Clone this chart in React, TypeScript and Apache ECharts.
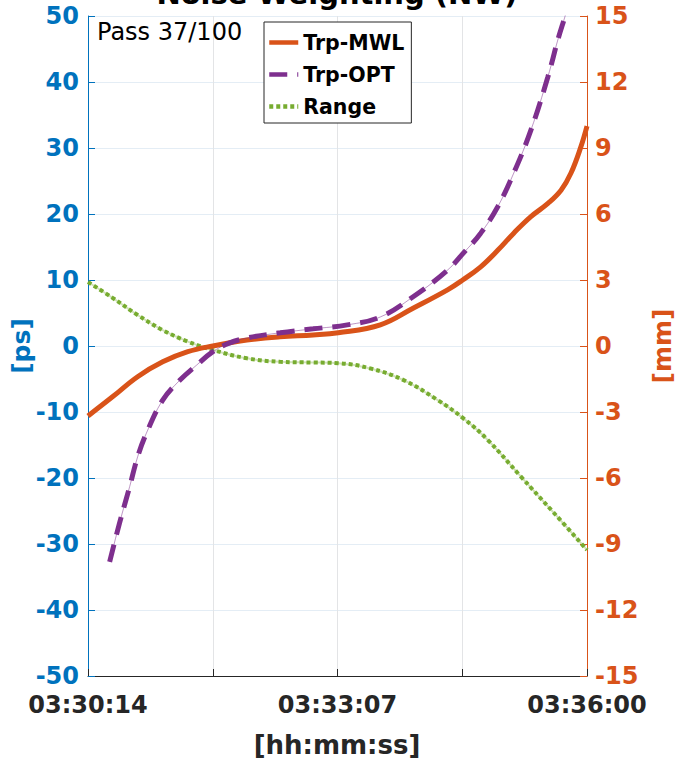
import React, { useEffect, useRef } from "react";
import * as echarts from "echarts";

// Time in seconds since 03:30:14
const X_MAX = 346;
const X_TICK_VALUES = [0, 173, 346];
const X_TICK_LABELS = ["03:30:14", "03:33:07", "03:36:00"];

// Trp-MWL [ps]
const MWL_T = [0, 17, 34.4, 51.8, 69.2, 86.6, 110.2, 133.2, 156.1, 173.5, 202.7, 225.7, 249.3, 259.8, 272.3, 284.1, 295.2, 307.1, 318.9, 328, 334.9, 341.8, 346];
const MWL_V = [-10.6, -7.7, -4.65, -2.4, -0.86, 0, 0.9, 1.4, 1.67, 2.0, 3.2, 5.75, 8.5, 10.0, 12.0, 14.5, 17.1, 19.6, 21.6, 23.6, 26.2, 30.2, 33.3];

// Trp-OPT [ps]
const OPT_T = [15, 21.9, 28.9, 34.4, 40.5, 51.8, 63.6, 75.3, 86.6, 97.4, 110, 133.2, 156.1, 179.8, 202.7, 225.7, 249.3, 260.4, 272.3, 284.1, 295.2, 307.1, 318.9, 325.8, 331.4, 334];
const OPT_V = [-32.7, -26.8, -21.3, -16.8, -13.2, -8.2, -5.2, -2.9, -0.86, 0.4, 1.2, 2.0, 2.6, 3.2, 4.4, 7.5, 11.5, 14.1, 17.1, 21.1, 26.2, 32.7, 40.8, 46.4, 50.4, 52.5];

// Range [mm]
const RANGE_T = [0, 17, 34.4, 51.8, 69.2, 86.6, 110.2, 133.2, 156.1, 173.5, 195.8, 218.8, 242.5, 260.3, 277, 300.2, 323.1, 346];
const RANGE_V = [2.91, 2.19, 1.41, 0.72, 0.2, -0.18, -0.56, -0.72, -0.75, -0.78, -1.02, -1.55, -2.46, -3.29, -4.26, -5.94, -7.59, -9.27];

const C_BLUE = "#0072BD";
const C_ORANGE = "#D95319";
const C_PURPLE = "#7E2F8E";
const C_GREEN = "#77AC30";
const C_DARK = "#262626";
const FONT = "DejaVu Sans";

const pairs = (t: number[], v: number[]) => t.map((x, i) => [x, v[i]]);

export default function App() {
  const ref = useRef<HTMLDivElement>(null);
  useEffect(() => {
    document.body.style.margin = "0";
    const chart = echarts.init(ref.current!, undefined, { renderer: "svg" });
    const option: any = {
      animation: false,
      backgroundColor: "#fff",
      grid: { left: 88, top: 16, width: 499, height: 660, containLabel: false },
      legend: {
        data: ["Trp-MWL", "Trp-OPT", "Range"],
        orient: "vertical",
        left: 264,
        top: 22,
        padding: [10, 7, 6, 3],
        itemGap: 11,
        itemWidth: 29,
        itemHeight: 14,
        borderColor: C_DARK,
        borderWidth: 1,
        borderRadius: 0,
        backgroundColor: "#fff",
        itemStyle: { opacity: 0, borderWidth: 0 },
        lineStyle: { width: 4.5 },
        textStyle: { fontFamily: FONT, fontWeight: "bold", fontSize: 20.5, color: "#000" },
      },
      xAxis: {
        type: "value",
        min: 0,
        max: X_MAX,
        interval: X_MAX / 4,
        axisLine: { onZero: false, lineStyle: { color: C_DARK, width: 1 } },
        axisTick: { inside: true, length: 7, lineStyle: { color: C_DARK } },
        splitLine: { show: true, lineStyle: { color: "#e3e4e6", width: 1 } },
        axisLabel: {
          margin: 17,
          fontFamily: FONT,
          fontWeight: "bold",
          fontSize: 24,
          color: C_DARK,
          formatter: (v: number) => {
            const i = X_TICK_VALUES.findIndex((t) => Math.abs(t - v) < 0.01);
            return i >= 0 ? X_TICK_LABELS[i] : "";
          },
        },
      },
      yAxis: [
        {
          type: "value",
          min: -50,
          max: 50,
          interval: 10,
          position: "left",
          axisLine: { show: true, onZero: false, lineStyle: { color: C_BLUE, width: 1 } },
          axisTick: { show: true, inside: true, length: 7, lineStyle: { color: C_BLUE } },
          splitLine: { show: true, lineStyle: { color: "#e4edf5", width: 1 } },
          axisLabel: { margin: 9, fontFamily: FONT, fontWeight: "bold", fontSize: 24, color: C_BLUE },
        },
        {
          type: "value",
          min: -15,
          max: 15,
          interval: 3,
          position: "right",
          axisLine: { show: true, onZero: false, lineStyle: { color: C_ORANGE, width: 1 } },
          axisTick: { show: true, inside: true, length: 7, lineStyle: { color: C_ORANGE } },
          splitLine: { show: false },
          axisLabel: { margin: 8, fontFamily: FONT, fontWeight: "bold", fontSize: 24, color: C_ORANGE },
        },
      ],
      series: [
        {
          name: "Range-thin",
          type: "line",
          yAxisIndex: 1,
          data: pairs(RANGE_T, RANGE_V),
          smooth: 0.4,
          symbol: "none",
          silent: true,
          lineStyle: { color: C_GREEN, width: 2, opacity: 0.35 },
          z: 2,
        },
        {
          name: "Range",
          type: "line",
          yAxisIndex: 1,
          data: pairs(RANGE_T, RANGE_V),
          smooth: 0.4,
          symbol: "none",
          color: C_GREEN,
          lineStyle: { color: C_GREEN, width: 4, type: [4, 3], cap: "butt" },
          z: 3,
        },
        {
          name: "Trp-MWL",
          type: "line",
          yAxisIndex: 0,
          data: pairs(MWL_T, MWL_V),
          smooth: 0.4,
          symbol: "none",
          color: C_ORANGE,
          lineStyle: { color: C_ORANGE, width: 5 },
          z: 4,
        },
        {
          name: "Trp-OPT-thin",
          type: "line",
          yAxisIndex: 0,
          data: pairs(OPT_T, OPT_V),
          smooth: 0.4,
          symbol: "none",
          silent: true,
          lineStyle: { color: C_PURPLE, width: 1, opacity: 0.5 },
          z: 5,
        },
        {
          name: "Trp-OPT",
          type: "line",
          yAxisIndex: 0,
          data: pairs(OPT_T, OPT_V),
          smooth: 0.4,
          symbol: "none",
          color: C_PURPLE,
          lineStyle: { color: C_PURPLE, width: 5, type: [18, 10], cap: "butt" },
          z: 6,
        },
      ],
      graphic: [
        {
          type: "text",
          x: 337,
          y: -6,
          style: { text: "Noise Weighting (NW)", fontFamily: FONT, fontWeight: "bold", fontSize: 29, fill: "#000", align: "center", verticalAlign: "middle" },
        },
        {
          type: "text",
          x: 97,
          y: 32,
          z: 10,
          style: { text: "Pass 37/100", fontFamily: FONT, fontSize: 24, fill: "#000", align: "left", verticalAlign: "middle" },
        },
        {
          type: "text",
          x: 21,
          y: 346,
          rotation: Math.PI / 2,
          style: { text: "[ps]", fontFamily: FONT, fontWeight: "bold", fontSize: 25, fill: C_BLUE, align: "center", verticalAlign: "middle" },
        },
        {
          type: "text",
          x: 662,
          y: 346,
          rotation: Math.PI / 2,
          style: { text: "[mm]", fontFamily: FONT, fontWeight: "bold", fontSize: 25, fill: C_ORANGE, align: "center", verticalAlign: "middle" },
        },
        {
          type: "text",
          x: 337,
          y: 745,
          style: { text: "[hh:mm:ss]", fontFamily: FONT, fontWeight: "bold", fontSize: 26, fill: C_DARK, align: "center", verticalAlign: "middle" },
        },
      ],
    };
    chart.setOption(option);
    return () => chart.dispose();
  }, []);
  return <div ref={ref} style={{ width: 677, height: 759 }} />;
}
